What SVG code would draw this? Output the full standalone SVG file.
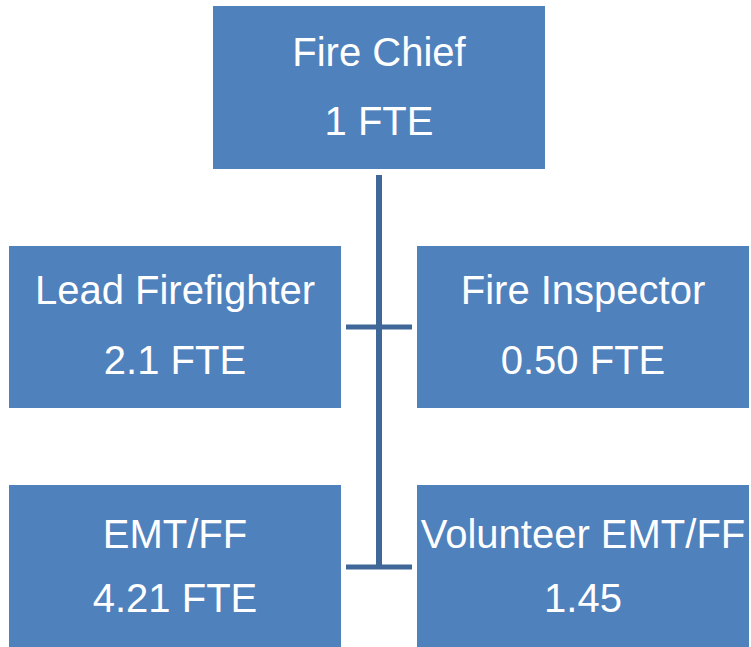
<svg xmlns="http://www.w3.org/2000/svg" width="751" height="647" viewBox="0 0 751 647">
<style>
.box{fill:#4F81BD;}
.t{fill:#FFFFFF;font-family:"Liberation Sans",Arial,sans-serif;font-size:40px;text-anchor:middle;}
.ln{stroke:#3F6898;fill:none;}
</style>
<rect width="751" height="647" fill="#FFFFFF"/>
<g id="connectors">
<line class="ln" x1="379" y1="175" x2="379" y2="569" stroke-width="6"/>
<line class="ln" x1="346" y1="327" x2="412" y2="327" stroke-width="5"/>
<line class="ln" x1="346" y1="567" x2="412" y2="567" stroke-width="5"/>
</g>
<g id="fire-chief">
<rect class="box" x="213" y="6" width="332" height="163"/>
<text class="t" x="379" y="66">Fire Chief</text>
<text class="t" x="379" y="135">1 FTE</text>
</g>
<g id="lead-firefighter">
<rect class="box" x="9" y="246" width="332" height="162"/>
<text class="t" x="175" y="304">Lead Firefighter</text>
<text class="t" x="175" y="374">2.1 FTE</text>
</g>
<g id="fire-inspector">
<rect class="box" x="417" y="246" width="332" height="162"/>
<text class="t" x="583" y="304">Fire Inspector</text>
<text class="t" x="583" y="374">0.50 FTE</text>
</g>
<g id="emt-ff">
<rect class="box" x="9" y="485" width="332" height="162"/>
<text class="t" x="175" y="548">EMT/FF</text>
<text class="t" x="175" y="612">4.21 FTE</text>
</g>
<g id="volunteer-emt-ff">
<rect class="box" x="417" y="485" width="332" height="162"/>
<text class="t" x="583" y="548">Volunteer EMT/FF</text>
<text class="t" x="583" y="612">1.45</text>
</g>
</svg>
